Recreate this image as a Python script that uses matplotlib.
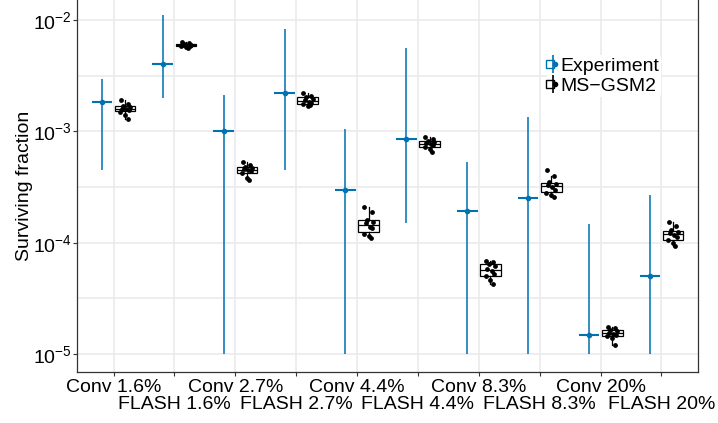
import numpy as np
import matplotlib
matplotlib.use("Agg")
import matplotlib.pyplot as plt
from matplotlib.lines import Line2D
from matplotlib.legend_handler import HandlerTuple
from matplotlib.ticker import FixedLocator, NullFormatter

categories = ["Conv 1.6%", "FLASH 1.6%", "Conv 2.7%", "FLASH 2.7%", "Conv 4.4%",
              "FLASH 4.4%", "Conv 8.3%", "FLASH 8.3%", "Conv 20%", "FLASH 20%"]

# experiment: value, lower, upper
exp_val = [1.85e-3, 4.0e-3, 1.0e-3, 2.2e-3, 3.0e-4, 8.6e-4, 1.92e-4, 2.55e-4, 1.5e-5, 5.0e-5]
exp_low = [4.5e-4, 2.0e-3, 1e-5, 4.5e-4, 1e-5, 1.5e-4, 1e-5, 1e-5, 1e-5, 1e-5]
exp_high = [2.95e-3, 1.11e-2, 2.12e-3, 8.3e-3, 1.05e-3, 5.6e-3, 5.35e-4, 1.35e-3, 1.48e-4, 2.66e-4]

# MS-GSM2 simulation runs
model_runs = [
    [1.9e-3, 1.75e-3, 1.7e-3, 1.65e-3, 1.6e-3, 1.58e-3, 1.55e-3, 1.5e-3, 1.4e-3, 1.3e-3],
    [6.4e-3, 6.2e-3, 6.1e-3, 6.0e-3, 5.95e-3, 5.9e-3, 5.85e-3, 5.8e-3, 5.7e-3, 5.6e-3],
    [5.3e-4, 5.0e-4, 4.8e-4, 4.7e-4, 4.6e-4, 4.5e-4, 4.4e-4, 4.2e-4, 3.8e-4, 3.7e-4],
    [2.2e-3, 2.1e-3, 2.05e-3, 1.95e-3, 1.9e-3, 1.85e-3, 1.8e-3, 1.75e-3, 1.7e-3, 1.72e-3],
    [2.1e-4, 1.9e-4, 1.6e-4, 1.55e-4, 1.5e-4, 1.4e-4, 1.35e-4, 1.2e-4, 1.15e-4, 1.1e-4],
    [9.0e-4, 8.6e-4, 8.2e-4, 8.0e-4, 7.8e-4, 7.7e-4, 7.5e-4, 7.2e-4, 7.0e-4, 6.6e-4],
    [6.9e-5, 6.7e-5, 6.5e-5, 6.2e-5, 5.8e-5, 5.6e-5, 5.3e-5, 5.0e-5, 4.6e-5, 4.3e-5],
    [4.5e-4, 4.0e-4, 3.5e-4, 3.4e-4, 3.3e-4, 3.2e-4, 3.0e-4, 2.8e-4, 2.7e-4, 2.6e-4],
    [1.75e-5, 1.72e-5, 1.65e-5, 1.6e-5, 1.55e-5, 1.52e-5, 1.5e-5, 1.45e-5, 1.4e-5, 1.2e-5],
    [1.55e-4, 1.42e-4, 1.3e-4, 1.25e-4, 1.22e-4, 1.18e-4, 1.12e-4, 1.05e-4, 1.0e-4, 9.3e-5],
]

blue = "#0072B2"
grid = "#EBEBEB"
dodge = 0.19
bw = 0.34
jit = [-0.07, 0.05, -0.03, 0.08, -0.05, 0.02, 0.06, -0.08, 0.0, 0.04]
fs = 14

plt.rcParams["font.family"] = ["Liberation Sans", "DejaVu Sans"]
plt.rcParams["mathtext.fontset"] = "custom"
plt.rcParams["mathtext.rm"] = "Liberation Sans"
plt.rcParams["mathtext.it"] = "Liberation Sans:italic"
plt.rcParams["mathtext.bf"] = "Liberation Sans:bold"
fig = plt.figure(figsize=(7.18, 4.23), dpi=100)
ax = fig.add_axes([77 / 718, 51 / 423, 621 / 718, 372 / 423])

x = np.arange(len(categories))

# experiment
for i in range(len(categories)):
    xe = x[i] - dodge
    ax.plot([xe, xe], [exp_low[i], exp_high[i]], color=blue, lw=1.4, alpha=0.8,
            solid_capstyle="butt", zorder=3)
    ax.plot([xe - bw / 2, xe + bw / 2], [exp_val[i], exp_val[i]], color=blue, lw=1.5,
            solid_capstyle="butt", zorder=3)
    ax.plot(xe, exp_val[i], "o", color=blue, ms=3, zorder=4)

# model boxplots
pos = x + dodge
ax.boxplot(model_runs, positions=pos, widths=bw, whis=1.5, showfliers=False,
           patch_artist=True, manage_ticks=False,
           boxprops=dict(facecolor="white", edgecolor="black", lw=0.9),
           medianprops=dict(color="black", lw=0.9),
           whiskerprops=dict(color="black", lw=0.9),
           capprops=dict(lw=0), zorder=3)
for i, runs in enumerate(model_runs):
    ax.scatter(pos[i] + np.array(jit), runs, s=12, color="black", zorder=4, lw=0)

ax.set_yscale("log")
ax.set_ylim(10 ** -5.16, 10 ** -1.82)
ax.set_xlim(-0.6, len(categories) - 0.4)
ax.yaxis.set_major_locator(FixedLocator([1e-5, 1e-4, 1e-3, 1e-2]))
ax.yaxis.set_minor_locator(FixedLocator([10 ** -5.5, 10 ** -4.5, 10 ** -3.5, 10 ** -2.5, 10 ** -1.5]))
ax.yaxis.set_minor_formatter(NullFormatter())
ax.set_yticklabels([r"$\mathrm{10^{-5}}$", r"$\mathrm{10^{-4}}$",
                    r"$\mathrm{10^{-3}}$", r"$\mathrm{10^{-2}}$"])

# two rows of category labels
ax.set_xticks(x)
ax.set_xticklabels([c if i % 2 == 0 else "" for i, c in enumerate(categories)])
sec = ax.secondary_xaxis("bottom")
sec.set_xticks(x[1::2])
sec.set_xticklabels(categories[1::2])
sec.tick_params(length=0, labelsize=fs, pad=17)
sec.spines["bottom"].set_visible(False)

ax.grid(True, which="major", color=grid, lw=1.2)
ax.grid(True, which="minor", axis="y", color=grid, lw=1.2)
ax.set_axisbelow(True)
ax.tick_params(axis="both", which="major", labelsize=fs, length=3, color="#333333",
               labelcolor="black", pad=2)
ax.tick_params(axis="y", which="major", pad=0.5)
ax.tick_params(axis="y", which="minor", length=0)
for s in ax.spines.values():
    s.set_color("#333333")
    s.set_linewidth(0.9)
ax.spines["top"].set_visible(False)

ax.set_ylabel("Surviving fraction", fontsize=fs, labelpad=0)

h_exp = (Line2D([], [], marker="s", ls="", mfc="white", mec=blue, ms=6, mew=1),
         Line2D([], [], marker="|", ls="", color=blue, ms=13, mew=1.2),
         Line2D([], [], marker="o", ls="", color=blue, ms=3))
h_mod = (Line2D([], [], marker="s", ls="", mfc="white", mec="black", ms=6, mew=1),
         Line2D([], [], marker="|", ls="", color="black", ms=13, mew=1.2),
         Line2D([], [], marker="o", ls="", color="black", ms=3))
leg = ax.legend([h_exp, h_mod], ["Experiment", "MS\u2212GSM2"],
                handler_map={tuple: HandlerTuple(ndivide=None, pad=0)},
                loc="upper left", bbox_to_anchor=(470 / 621, 317 / 372),
                frameon=True, fontsize=fs, handlelength=0.4, handletextpad=0.2,
                labelspacing=0.15, borderpad=0.1, borderaxespad=0, numpoints=1)
leg.get_frame().set_edgecolor("none")
leg.get_frame().set_facecolor("white")
leg.get_frame().set_alpha(1)

fig.savefig("out.png", dpi=100)
